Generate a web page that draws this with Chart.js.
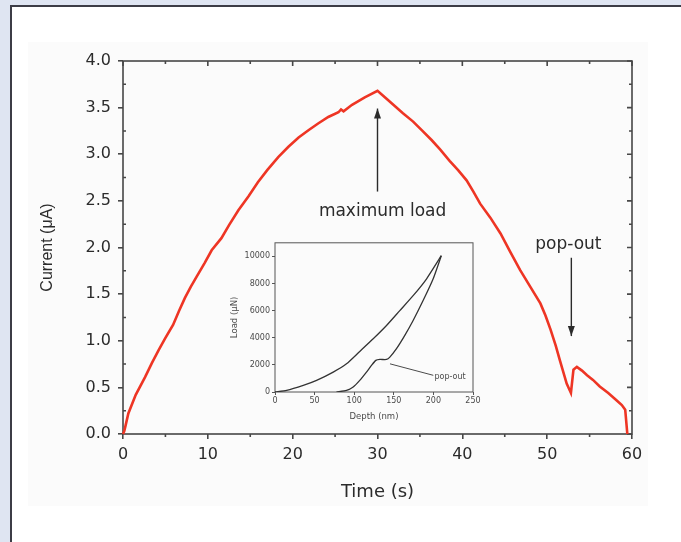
<!DOCTYPE html>
<html><head><meta charset="utf-8">
<script src="https://cdn.jsdelivr.net/npm/chart.js@4/dist/chart.umd.min.js"></script>
<style>
html,body{margin:0;padding:0;width:681px;height:542px;overflow:hidden;background:#dfe5f2;}
#panel{position:absolute;left:10px;top:5px;width:700px;height:600px;background:#fff;border-left:2px solid #3c3c46;border-top:2px solid #3c3c46;}
#shade{position:absolute;left:28px;top:42px;width:620px;height:464px;background:#fbfbfb;}
#main{position:absolute;left:0;top:0;width:681px;height:542px;}
#inset{position:absolute;left:222px;top:236px;width:262px;height:192px;}
</style></head><body>
<div id="panel"></div><div id="shade"></div>
<canvas id="main" width="681" height="542"></canvas>
<canvas id="inset" width="262" height="192"></canvas>
<script>
// ---- main chart data ----
const timeS = [0,0.15,0.3,0.63,1.5,2.6,3.4,4.2,5.0,5.9,6.6,7.3,8.0,8.7,9.6,10.45,11.6,12.5,13.6,14.8,15.9,17.0,18.3,19.5,20.7,21.9,23.0,24.2,25.4,25.7,26.0,27.0,28.5,30.0,31.0,32.0,33.0,34.2,35.3,36.4,37.4,38.5,39.5,40.5,41.3,42.1,43.3,44.5,45.6,46.8,48.0,49.2,49.8,50.4,51.0,51.5,52.3,52.8,53.1,53.5,54.1,54.7,55.4,56.2,57.2,58.2,58.8,59.2,59.45];
const currentUA = [0,0.03,0.09,0.22,0.42,0.61,0.76,0.90,1.03,1.17,1.32,1.46,1.58,1.69,1.83,1.97,2.10,2.24,2.40,2.55,2.70,2.83,2.97,3.08,3.18,3.26,3.33,3.40,3.45,3.48,3.46,3.53,3.61,3.68,3.60,3.52,3.44,3.35,3.25,3.15,3.05,2.93,2.83,2.72,2.60,2.47,2.32,2.15,1.96,1.76,1.58,1.40,1.27,1.12,0.95,0.79,0.54,0.44,0.69,0.72,0.68,0.63,0.58,0.51,0.44,0.36,0.31,0.26,0];
const xTickValues = [0,10,20,30,40,50,60];
const xMinorValues = [5,15,25,35,45,55];
const yTickValues = [0,0.5,1.0,1.5,2.0,2.5,3.0,3.5,4.0];
const yMinorValues = [0.25,0.75,1.25,1.75,2.25,2.75,3.25,3.75];

// ---- inset data ----
const loadDepth = [0,14.7,35.7,52.5,73.5,90.3,107,124,140.8,157.6,174.4,191.2,210];
const loadLoad  = [0,120,490,860,1470,2080,2990,3920,4900,6000,7100,8330,10050];
const unloadDepth = [77.7,90.3,98.7,107,115.5,121.8,127.3,132.4,140.8,145,153.4,163.9,174.4,187,199.6,210];
const unloadLoad  = [0,120,370,860,1470,1960,2330,2400,2400,2570,3190,4170,5270,6740,8330,10050];
const insetXTicks = [0,50,100,150,200,250];
const insetYTicks = [0,2000,4000,6000,8000,10000];

const pts = (xs, ys) => xs.map((x, i) => ({x, y: ys[i]}));

function arrow(ctx, x1, y1, x2, y2, head, w) {
  ctx.beginPath(); ctx.moveTo(x1, y1); ctx.lineTo(x2, y2); ctx.stroke();
  const a = Math.atan2(y2 - y1, x2 - x1);
  ctx.beginPath();
  ctx.moveTo(x2, y2);
  ctx.lineTo(x2 - head*Math.cos(a) + w*Math.sin(a), y2 - head*Math.sin(a) - w*Math.cos(a));
  ctx.lineTo(x2 - head*Math.cos(a) - w*Math.sin(a), y2 - head*Math.sin(a) + w*Math.cos(a));
  ctx.closePath(); ctx.fill();
}

const framePlugin = {
  id: 'frame',
  beforeDatasetsDraw(chart, args, o) {
    const {ctx, chartArea: a, scales: {x, y}} = chart;
    ctx.save();
    ctx.strokeStyle = o.color; ctx.lineWidth = o.width;
    ctx.strokeRect(a.left, a.top, a.right - a.left, a.bottom - a.top);
    ctx.beginPath();
    (o.xMajor||[]).forEach(v => { const p = x.getPixelForValue(v); ctx.moveTo(p, a.top); ctx.lineTo(p, a.top + o.major); });
    (o.xMinor||[]).forEach(v => { const p = x.getPixelForValue(v);
      ctx.moveTo(p, a.top); ctx.lineTo(p, a.top + o.minor);
      ctx.moveTo(p, a.bottom); ctx.lineTo(p, a.bottom + o.minor); });
    (o.yMajor||[]).forEach(v => { const p = y.getPixelForValue(v); ctx.moveTo(a.right, p); ctx.lineTo(a.right - o.major, p); });
    (o.yMinor||[]).forEach(v => { const p = y.getPixelForValue(v);
      ctx.moveTo(a.right, p); ctx.lineTo(a.right - o.minor, p);
      ctx.moveTo(a.left, p); ctx.lineTo(a.left + o.minor, p); });
    ctx.stroke();
    ctx.restore();
  }
};

const notePlugin = {
  id: 'notes',
  afterDatasetsDraw(chart, args, o) {
    const {ctx, scales: {x, y}} = chart;
    ctx.save();
    (o.items||[]).forEach(n => {
      ctx.fillStyle = n.color; ctx.strokeStyle = n.color;
      ctx.font = n.font; ctx.textAlign = 'center'; ctx.textBaseline = 'middle';
      ctx.fillText(n.text, x.getPixelForValue(n.tx), y.getPixelForValue(n.ty));
      if (n.ax1 !== undefined) {
        ctx.lineWidth = n.lw;
        const x1 = x.getPixelForValue(n.ax1), y1 = y.getPixelForValue(n.ay1);
        const x2 = x.getPixelForValue(n.ax2), y2 = y.getPixelForValue(n.ay2);
        if (n.head) arrow(ctx, x1, y1, x2, y2, n.head, n.hw);
        else { ctx.beginPath(); ctx.moveTo(x1, y1); ctx.lineTo(x2, y2); ctx.stroke(); }
      }
    });
    ctx.restore();
  }
};

const TXT = '#2b2b2b';

new Chart(document.getElementById('main'), {
  type: 'scatter',
  data: { datasets: [{ data: pts(timeS, currentUA), showLine: true, borderColor: '#ee3524', borderWidth: 2.6, pointRadius: 0, tension: 0, clip: 4 }] },
  options: {
    responsive: false, animation: false, events: [],
    layout: { padding: { left: 0, top: 61, right: 49, bottom: 0 } },
    plugins: {
      legend: { display: false }, tooltip: { enabled: false },
      frame: { color: '#474747', width: 1.6, major: 5, minor: 3, xMajor: xTickValues, xMinor: xMinorValues, yMajor: yTickValues, yMinor: yMinorValues },
      notes: { items: [
        { text: 'maximum load', tx: 30.6, ty: 2.39, font: '17px "DejaVu Sans"', color: TXT, ax1: 30, ay1: 2.6, ax2: 30, ay2: 3.49, lw: 1.4, head: 10, hw: 3.5 },
        { text: 'pop-out', tx: 52.5, ty: 2.03, font: '17px "DejaVu Sans"', color: TXT, ax1: 52.85, ay1: 1.89, ax2: 52.85, ay2: 1.05, lw: 1.4, head: 10, hw: 3.5 }
      ]}
    },
    scales: {
      x: {
        type: 'linear', min: 0, max: 60,
        afterBuildTicks: s => { s.ticks = xTickValues.map(v => ({value: v})); },
        afterFit: s => { s.height = 108; },
        ticks: { font: { family: 'DejaVu Sans', size: 16 }, color: TXT, padding: 6, maxRotation: 0 },
        grid: { drawOnChartArea: false, drawTicks: true, tickLength: 5, color: '#474747', lineWidth: 1.6 },
        border: { display: false },
        title: { display: true, text: 'Time (s)', font: { family: 'DejaVu Sans', size: 18 }, color: TXT, padding: { top: 0, bottom: 39 } }
      },
      y: {
        type: 'linear', min: 0, max: 4,
        afterBuildTicks: s => { s.ticks = yTickValues.map(v => ({value: v})); },
        afterFit: s => { s.width = 123; },
        ticks: { font: { family: 'DejaVu Sans', size: 16 }, color: TXT, padding: 7, callback: v => Number(v).toFixed(1) },
        grid: { drawOnChartArea: false, drawTicks: true, tickLength: 5, color: '#474747', lineWidth: 1.6 },
        border: { display: false },
        title: { display: true, text: 'Current (μA)', font: { family: 'Liberation Sans', size: 16 }, color: TXT, padding: { top: 38, bottom: 0 } }
      }
    }
  },
  plugins: [framePlugin, notePlugin]
});

const ITXT = '#4a4a4a';
new Chart(document.getElementById('inset'), {
  type: 'scatter',
  data: { datasets: [
    { data: pts(loadDepth, loadLoad), showLine: true, borderColor: '#333', borderWidth: 1.3, pointRadius: 0, tension: 0.2 },
    { data: pts(unloadDepth, unloadLoad), showLine: true, borderColor: '#333', borderWidth: 1.3, pointRadius: 0, tension: 0.2 }
  ]},
  options: {
    responsive: false, animation: false, events: [],
    layout: { padding: { left: 0, top: 4, right: 11, bottom: 0 } },
    plugins: {
      legend: { display: false }, tooltip: { enabled: false },
      frame: { color: '#555', width: 1, major: 0, minor: 0 },
      notes: { items: [
        { text: 'pop-out', tx: 221, ty: 1107, font: '8px "DejaVu Sans"', color: ITXT, ax1: 145.2, ay1: 2077, ax2: 199.9, ay2: 1230, lw: 1, head: 0 }
      ]}
    },
    scales: {
      x: {
        type: 'linear', min: 0, max: 250,
        afterBuildTicks: s => { s.ticks = insetXTicks.map(v => ({value: v})); },
        afterFit: s => { s.height = 36; },
        ticks: { font: { family: 'DejaVu Sans', size: 8 }, color: ITXT, padding: 1, maxRotation: 0, callback: v => String(v) },
        grid: { drawOnChartArea: false, drawTicks: true, tickLength: 3, color: '#555', lineWidth: 1 },
        border: { display: false },
        title: { display: true, text: 'Depth (nm)', font: { family: 'DejaVu Sans', size: 8.5 }, color: ITXT, padding: { top: 0, bottom: 6 } }
      },
      y: {
        type: 'linear', min: 0, max: 11000,
        afterBuildTicks: s => { s.ticks = insetYTicks.map(v => ({value: v})); },
        afterFit: s => { s.width = 53; },
        ticks: { font: { family: 'DejaVu Sans', size: 8 }, color: ITXT, padding: 2, callback: v => String(v) },
        grid: { drawOnChartArea: false, drawTicks: true, tickLength: 3, color: '#555', lineWidth: 1 },
        border: { display: false },
        title: { display: true, text: 'Load (μN)', font: { family: 'DejaVu Sans', size: 8.5 }, color: ITXT, padding: { top: 8, bottom: 0 } }
      }
    }
  },
  plugins: [framePlugin, notePlugin]
});
</script>
</body></html>
